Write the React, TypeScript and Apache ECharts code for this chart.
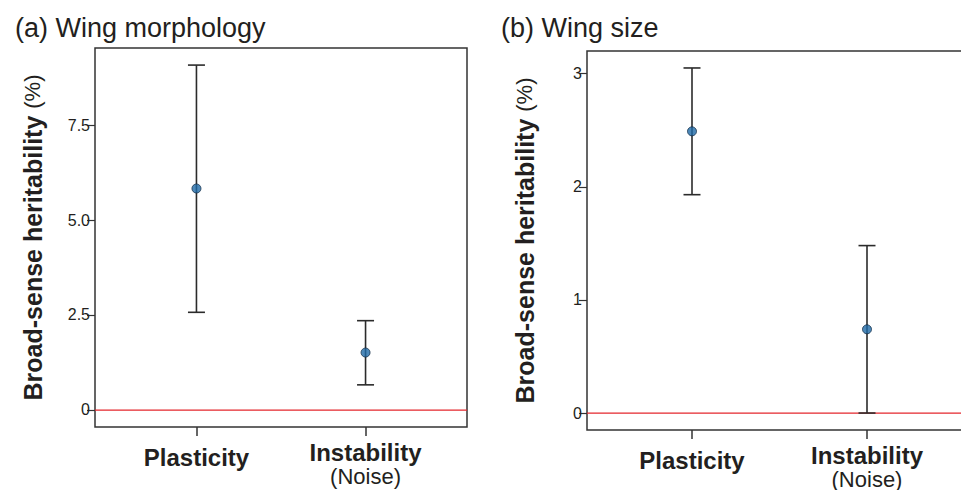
import React, { useEffect, useRef } from "react";
import * as echarts from "echarts";

const categories = ["Plasticity", "Instability"];
const subLabels = ["", "(Noise)"];
const catPositions = [1, 2];

const morphMean = [5.83, 1.51];
const morphLow = [2.57, 0.66];
const morphHigh = [9.08, 2.35];

const sizeMean = [2.49, 0.74];
const sizeLow = [1.93, 0];
const sizeHigh = [3.05, 1.48];

const morphTicks = [0, 2.5, 5, 7.5];
const sizeTicks = [0, 1, 2, 3];
const referenceLevel = [0];

const titles = ["(a) Wing morphology", "(b) Wing size"];

const FONT = "Liberation Sans, Arial, Helvetica, sans-serif";
const INK = "#231f20";
const RED = "#e4262c";

export default function App() {
  const ref = useRef<HTMLDivElement>(null);
  useEffect(() => {
    if (!ref.current) return;
    const chart = echarts.init(ref.current, null, { renderer: "svg" });

    const xAxisCfg = (gridIndex: number) => ({
      type: "value",
      gridIndex,
      position: "bottom",
      min: 0.4,
      max: 2.6,
      axisLine: { show: false, onZero: false },
      splitLine: { show: false },
      axisTick: {
        show: true,
        inside: false,
        customValues: catPositions,
        length: 9,
        lineStyle: { color: "#333", width: 1.5 },
      },
      axisLabel: {
        show: true,
        customValues: catPositions,
        margin: 13,
        formatter: (v: number) => {
          const i = catPositions.indexOf(v);
          if (i < 0) return "";
          if (!subLabels[i]) return "{p|" + categories[i] + "}";
          return "{b|" + categories[i] + "}\n{n|" + subLabels[i] + "}";
        },
        rich: {
          p: { fontFamily: FONT, fontSize: 24, fontWeight: "bold", color: INK, lineHeight: 24, padding: [10, 0, 0, 0] },
          b: { fontFamily: FONT, fontSize: 24, fontWeight: "bold", color: INK, lineHeight: 24 },
          n: { fontFamily: FONT, fontSize: 22, color: INK, lineHeight: 24 },
        },
      },
    });

    const yAxisCfg = (gridIndex: number, min: number, max: number, ticks: number[], fmt: (v: number) => string) => ({
      type: "value",
      gridIndex,
      position: "left",
      min,
      max,
      axisLine: { show: false, onZero: false },
      splitLine: { show: false },
      axisTick: {
        show: true,
        inside: false,
        customValues: ticks,
        length: 8,
        lineStyle: { color: "#333", width: 1.2 },
      },
      axisLabel: {
        show: true,
        customValues: ticks,
        formatter: fmt,
        margin: 5,
        fontFamily: FONT,
        fontSize: 16,
        color: INK,
      },
      name: "{b|Broad-sense heritability} {r|(%)}",
      nameLocation: "middle",
      nameRotate: 90,
      nameGap: 50,
      nameTextStyle: {
        fontFamily: FONT,
        fontSize: 25,
        color: INK,
        rich: {
          b: { fontFamily: FONT, fontSize: 25, fontWeight: "bold", color: INK },
          r: { fontFamily: FONT, fontSize: 22, color: INK },
        },
      },
    });

    const errorBarSeries = (idx: number, low: number[], high: number[]) => ({
      type: "custom",
      xAxisIndex: idx,
      yAxisIndex: idx,
      z: 11,
      clip: false,
      data: catPositions.map((x, i) => [x, low[i], high[i]]),
      renderItem: (params: any, api: any) => {
        const x = api.value(0);
        const lo = api.coord([x, api.value(1)]);
        const hi = api.coord([x, api.value(2)]);
        const hw = 8.5;
        const style = { stroke: "#2b2b2b", lineWidth: 1.6 };
        return {
          type: "group",
          children: [
            { type: "line", shape: { x1: lo[0], y1: lo[1], x2: hi[0], y2: hi[1] }, style },
            { type: "line", shape: { x1: hi[0] - hw, y1: hi[1], x2: hi[0] + hw, y2: hi[1] }, style },
            { type: "line", shape: { x1: lo[0] - hw, y1: lo[1], x2: lo[0] + hw, y2: lo[1] }, style },
          ],
        };
      },
    });

    const pointSeries = (idx: number, mean: number[]) => ({
      type: "scatter",
      xAxisIndex: idx,
      yAxisIndex: idx,
      z: 12,
      symbol: "circle",
      symbolSize: 9,
      itemStyle: { color: "#1f6aa8", borderColor: "#15304a", borderWidth: 1 },
      data: catPositions.map((x, i) => [x, mean[i]]),
    });

    const zeroLine = (idx: number) => ({
      type: "custom",
      xAxisIndex: idx,
      yAxisIndex: idx,
      z: 10,
      clip: true,
      itemStyle: { color: RED },
      data: referenceLevel.map((v) => [1, v]),
      renderItem: (params: any, api: any) => {
        const cs = params.coordSys;
        const p = api.coord([api.value(0), api.value(1)]);
        const y = Math.round(p[1]);
        return {
          type: "rect",
          shape: { x: cs.x, y: y - 0.5, width: cs.width, height: 1.3 },
          style: { fill: RED, stroke: null, lineWidth: 0 },
        };
      },
    });

    chart.setOption({
      animation: false,
      backgroundColor: "#fff",
      title: [
        { text: titles[0], left: 10, top: 9, textStyle: { fontFamily: FONT, fontSize: 27, fontWeight: "normal", color: INK } },
        { text: titles[1], left: 496, top: 9, textStyle: { fontFamily: FONT, fontSize: 27, fontWeight: "normal", color: INK } },
      ],
      grid: [
        { left: 95, top: 48, width: 372, height: 379, show: true, borderColor: "#333", borderWidth: 1.5, outerBoundsMode: "none", containLabel: false },
        { left: 587, top: 51, width: 385, height: 379, show: true, borderColor: "#333", borderWidth: 1.5, outerBoundsMode: "none", containLabel: false },
      ],
      xAxis: [xAxisCfg(0), xAxisCfg(1)],
      yAxis: [
        yAxisCfg(0, -0.45, 9.53, morphTicks, (v: number) => (v === 0 ? "0" : v.toFixed(1))),
        yAxisCfg(1, -0.15, 3.2, sizeTicks, (v: number) => String(v)),
      ],
      series: [
        zeroLine(0),
        errorBarSeries(0, morphLow, morphHigh),
        pointSeries(0, morphMean),
        zeroLine(1),
        errorBarSeries(1, sizeLow, sizeHigh),
        pointSeries(1, sizeMean),
      ],
    });
    return () => chart.dispose();
  }, []);
  return <div ref={ref} style={{ position: "absolute", left: 0, top: 0, width: 961, height: 490 }} />;
}
